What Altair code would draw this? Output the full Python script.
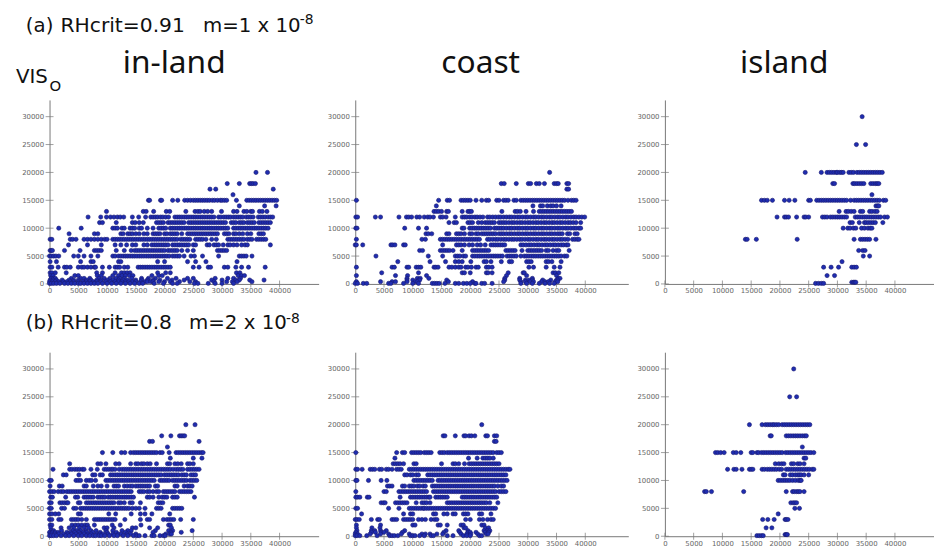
import altair as alt
import pandas as pd

x_ticks = [0, 5000, 10000, 15000, 20000, 25000, 30000, 35000, 40000]
y_ticks = [0, 5000, 10000, 15000, 20000, 25000, 30000]

# each panel: observed VIS level (thousands) -> modelled VIS values (thousands)
inland_a = {
 20: [35.9, 37.9],
 18: [30.9, 33.0, 34.8, 35.1, 35.4, 35.8],
 17: [27.9, 28.9, 38.9],
 16: [31.9],
 15: [17.2, 17.4, 19.3, 19.5, 21.4, 22.3, 23.5, 24, 24.5, 25, 25.4, 25.8, 26.2, 26.6, 27, 27.4, 27.8, 28.3, 28.7, 29.2, 29.7, 30, 30.4, 30.8, 32.5, 34.3, 34.7, 35.1, 35.5, 35.9, 36.3, 36.7, 37.1, 37.5, 37.9, 38.3, 38.7, 39.1, 39.5],
 14: [33.0, 37.4, 39.4],
 13: [9.9, 16.3, 16.8, 18.1, 20.3, 20.9, 23.7, 25.3, 25.8, 26.2, 26.9, 27.5, 28.2, 29.9, 32, 32.6, 33.8, 34.3, 35, 35.3, 36.5, 37, 37.8],
 12: [6.7, 8.9, 9.9, 10.6, 11.2, 11.8, 12.3, 12.9, 14.4, 15.5, 16.7, 17.6, 18, 18.4, 18.8, 19.3, 19.7, 20.2, 20.7, 21.8, 22.2, 22.6, 23, 23.4, 23.8, 24.2, 24.6, 25, 25.4, 25.8, 26.2, 26.6, 27, 27.4, 27.8, 28.2, 28.6, 29.4, 29.8, 30.3, 30.7, 31.1, 31.5, 32, 32.4, 32.8, 33.2, 33.6, 34.2, 34.6, 35, 35.4, 36.3, 36.7, 37.1, 37.5, 38, 38.4, 38.8],
 11: [8.7, 9.2, 11.6, 14.4, 14.9, 15.6, 16.3, 18.6, 19, 19.4, 19.8, 20.6, 21, 21.4, 21.8, 22.2, 22.6, 23, 23.4, 24.2, 24.6, 25, 25.4, 25.8, 26.2, 26.6, 27, 27.4, 27.8, 28.2, 28.6, 29, 29.4, 29.8, 30.2, 30.6, 31.6, 32, 32.4, 33, 33.4, 33.8, 34.4, 34.8, 35.2, 35.6, 36.4, 36.8, 37.2, 37.6, 38, 38.4],
 10: [1.6, 5.5, 11, 11.4, 11.8, 12.6, 13, 14, 14.4, 14.8, 15.6, 16, 17, 18, 19, 19.4, 19.8, 20.2, 21, 21.4, 21.8, 22.2, 22.6, 23, 23.4, 23.8, 24.2, 24.6, 25, 25.4, 25.8, 26.2, 26.6, 27, 27.4, 27.8, 28.2, 28.6, 29, 29.4, 29.8, 30.2, 30.6, 31, 32, 32.4, 32.8, 33.2, 33.6, 34, 34.4, 34.8, 35.2, 35.6, 36, 36.4, 36.8, 37.2, 37.6, 38],
 9: [3.4, 7.8, 8.4, 12.4, 12.8, 13.6, 14, 14.4, 15, 15.6, 16.4, 17, 18, 18.4, 18.8, 19.2, 20, 20.4, 21, 21.4, 21.8, 22.2, 23, 24, 24.4, 24.8, 25.2, 25.6, 26, 26.4, 26.8, 27.2, 27.6, 28, 28.4, 28.8, 29.2, 30.4, 30.8, 31.2, 32, 32.4, 33, 33.6, 34.4, 35, 36.4, 36.8, 37.2],
 8: [0.1, 0.4, 3.6, 4, 4.6, 6, 6.6, 7.2, 7.8, 8.4, 9, 9.6, 10, 11, 11.4, 11.8, 12.2, 12.6, 13, 13.4, 13.8, 14.2, 14.6, 15, 15.4, 15.8, 16.2, 16.6, 17, 17.4, 17.8, 18.2, 18.6, 19, 19.4, 19.8, 20.2, 20.6, 21, 21.4, 21.8, 22.2, 22.8, 23.2, 23.6, 24, 24.4, 25.4, 25.8, 26.2, 26.6, 27.2, 28.2, 29, 31, 31.4, 31.8, 32.2, 32.6, 33, 33.4, 33.8, 34.4, 34.8, 35.2, 36, 36.4, 36.8, 37.2, 37.6],
 7: [3.3, 6.6, 9, 11.4, 12.4, 13.4, 14.4, 15, 16.4, 17, 17.8, 18.2, 18.6, 19, 19.4, 19.8, 20.2, 20.6, 21.4, 21.8, 22.2, 22.6, 23, 23.4, 23.8, 24.2, 25, 25.4, 27.4, 27.8, 28.6, 29, 29.4, 30.2, 31, 31.4, 32, 32.6, 33.4, 34, 34.4, 38.4],
 6: [0.1, 0.3, 0.5, 2.6, 5.3, 7.8, 8.2, 8.6, 9, 11.6, 13, 14.2, 14.8, 15.2, 15.6, 16, 16.4, 16.8, 17.2, 17.6, 18, 18.4, 18.8, 19.2, 19.6, 20, 20.6, 21, 21.4, 21.8, 22.2, 23, 24, 25, 29.2, 29.6, 30, 30.4, 30.8],
 5: [0, 0.3, 0.7, 1.1, 1.6, 4.2, 5, 6, 7.2, 8.4, 11, 11.4, 12, 12.4, 12.8, 13.2, 13.6, 14, 14.4, 14.8, 15.2, 15.6, 16, 16.4, 16.8, 17.2, 17.6, 18, 18.4, 18.8, 19.2, 19.6, 20, 20.4, 20.8, 21.4, 21.8, 22.2, 22.6, 23.4, 24.6, 25.2, 26.6, 29.4, 33, 33.4, 33.8, 34.2, 35.2],
 4: [0.1, 1.2, 5.4, 7.2, 7.6, 12, 12.4, 18.8, 20, 24, 25.4, 27.2, 32.6],
 3: [0.1, 0.4, 1.5, 2.6, 3, 3.6, 5, 5.6, 6, 6.6, 7.2, 7.8, 8, 9.2, 10.4, 11.4, 11.8, 12.2, 13, 13.6, 15.4, 15.8, 16.2, 16.6, 17, 17.4, 17.8, 18.2, 18.6, 19, 19.4, 19.8, 20.2, 20.6, 21, 25, 26, 27.6, 28, 30.4, 31, 32.4, 33.4, 34.6, 37.5],
 2: [0.1, 0.4, 1, 2.9, 8.2, 9.2, 11.4, 12.5, 13, 13.5, 14, 18.8, 20.2, 21, 32.5, 33.1],
 1.5: [0.2, 0.6, 4.4, 5, 8.3, 9, 11, 12, 12.6, 13.2, 13.9, 14.5, 17.8, 19, 19.6, 32.8, 33.4, 33.9],
 1: [0.3, 0.7, 1, 3.8, 5.4, 6, 7, 8.6, 9.5, 10.5, 11.5, 12.2, 13, 14.3, 16, 17.2, 18.4, 20.5, 22, 24, 25, 28.8, 31, 32, 33.2],
 0.7: [0.1, 0.6, 1.2, 2.2, 3.4, 4.2, 5, 6.4, 7.2, 8.2, 9, 10, 11, 12, 12.8, 13.6, 15, 16, 17, 18, 19.2, 21.3, 23.4, 28.2, 30, 32.4, 33, 34.8, 37.3],
 0.4: [0, 0.5, 1, 1.6, 2.4, 3, 3.6, 4.2, 5, 5.8, 6.4, 7, 7.6, 8.2, 9, 9.8, 10.6, 11.4, 12, 12.6, 13.2, 13.8, 14.4, 15, 15.8, 16.6, 17, 17.6, 18, 19, 20, 21, 22.6, 24.4, 25.4, 28.6, 30.8, 31.8, 32.6, 35.2],
 0.1: [0, 0.3, 0.7, 1.2, 1.8, 2.6, 3.2, 3.8, 4.4, 5, 5.4, 6, 6.6, 7.2, 7.8, 8.4, 9.2, 10, 10.8, 11.6, 12.4, 13.2, 14, 14.8, 15.6, 16.2, 18.2, 19.8, 21.4, 22.2, 25.2, 25.8, 27.6, 28.8, 30, 32],
}

coast_a = {
 20: [33.8],
 18: [25.4, 25.9, 28, 30.1, 30.5, 31.5, 32, 32.9, 34.6, 35, 35.3, 36.8, 37.1],
 17: [36.8, 37.1],
 15: [0.2, 14.5, 16, 16.4, 18.4, 18.8, 19.2, 19.6, 20, 21, 22, 22.8, 23.2, 24.6, 25, 25.8, 26.2, 26.6, 27.6, 28, 28.8, 29.2, 29.6, 30, 30.4, 30.8, 31.2, 31.6, 32, 32.4, 32.8, 33.2, 33.6, 34, 34.4, 34.8, 35.2, 35.6, 36, 36.4, 37, 37.6, 38, 38.4],
 14: [14.1, 30.9, 32.2, 32.6, 33.4, 34, 34.4, 35, 35.8],
 13: [13.7, 14.1, 14.5, 15, 15.9, 16.2, 18.6, 19.6, 19.9, 20.2, 25.5, 27.8, 28.2, 28.7, 29.7, 31, 32, 32.4, 32.8, 33.2, 33.6, 34, 34.4, 34.8, 35.2, 35.6, 36, 36.4, 36.8, 37.2, 37.6],
 12: [0.1, 0.4, 3.5, 4.4, 7.6, 8.9, 9.3, 9.8, 10.7, 11.2, 12, 12.6, 13, 13.6, 14.8, 15.2, 15.8, 17.4, 18.6, 19, 19.4, 19.9, 20.3, 20.8, 21.2, 21.7, 22.2, 23, 23.4, 23.9, 24.4, 24.9, 25.3, 25.8, 26.3, 26.8, 27.2, 27.7, 28.2, 28.6, 29.1, 29.6, 30, 30.5, 31, 31.4, 31.9, 32.4, 32.8, 33.3, 33.8, 34.2, 34.7, 35.2, 35.6, 36.1, 36.6, 37, 37.5, 38, 38.4, 38.9, 39.4, 39.9],
 11: [16.3, 17.2, 17.6, 19.6, 20, 20.4, 21.4, 22, 22.6, 23, 23.4, 23.8, 24.2, 25, 25.4, 25.8, 26.2, 26.7, 27.2, 27.6, 28.1, 28.6, 29, 29.5, 30, 30.4, 30.9, 31.4, 31.8, 32.3, 32.8, 33.2, 33.7, 34.2, 34.6, 35.1, 35.6, 36, 36.5, 37, 37.4, 37.9, 38.4, 39.2],
 10: [0.1, 0.3, 8.6, 11, 12.4, 18.6, 18.9, 19.9, 20.3, 20.7, 21.1, 21.5, 21.9, 22.3, 22.7, 23.1, 23.5, 24.2, 24.6, 25, 25.4, 25.8, 26.3, 26.8, 27.2, 27.7, 28.2, 28.6, 29.1, 29.6, 30, 30.5, 31, 31.4, 31.9, 32.4, 32.8, 33.3, 33.8, 34.2, 34.7, 35.2, 35.6, 36.1, 36.6, 37, 37.5, 38, 38.4, 38.9, 39.2],
 9: [12.3, 12.7, 13.3, 15.9, 16.3, 17.6, 18, 18.4, 19, 19.9, 20.3, 21, 21.4, 22, 22.4, 22.8, 23.2, 23.6, 24, 24.4, 25, 25.4, 25.8, 26.3, 26.8, 27.2, 27.7, 28.2, 28.6, 29.1, 29.6, 30, 30.5, 31, 31.4, 31.9, 32.4, 32.8, 33.3, 33.8, 34.2, 34.7, 35.2, 35.6, 36, 36.9, 37.3, 38.2, 38.6],
 8: [0.2, 11.6, 12.2, 14.8, 15.2, 15.6, 16, 16.4, 16.8, 17.2, 17.6, 18, 18.4, 18.8, 19.2, 19.6, 20, 20.4, 20.8, 21.2, 21.6, 23, 23.4, 23.9, 24.4, 24.8, 25.3, 25.8, 26.2, 26.7, 27.2, 27.6, 28.1, 28.6, 29, 29.5, 30, 30.4, 30.9, 31.4, 31.8, 32.3, 32.8, 33.2, 33.7, 34.2, 34.6, 35.1, 35.6, 36, 36.5, 37, 37.8, 38.2, 38.6, 38.9],
 7: [0, 0.2, 1.3, 6.2, 6.5, 6.9, 8.4, 8.7, 15.2, 17.6, 18, 18.4, 19, 19.8, 20.4, 21.2, 21.8, 22.6, 23.6, 24, 24.4, 24.8, 25.2, 25.6, 26, 28.8, 29.2, 29.7, 30.2, 30.6, 31.1, 31.6, 32, 32.5, 33, 33.4, 33.9, 34.4, 34.8, 35.3, 35.8, 36.2, 36.7, 37],
 6: [11.2, 11.7, 14.8, 15.2, 15.6, 16, 16.4, 17, 18.6, 20.4, 20.8, 21.2, 21.6, 22, 22.4, 22.8, 23.2, 26.2, 26.6, 27, 27.4, 27.8, 29, 30, 30.4, 30.8, 31.2, 31.6, 32, 32.4, 33.2, 33.6, 34.4, 35, 35.4, 37.2],
 5: [3.6, 12.7, 15.2, 17.4, 17.8, 18.2, 18.8, 19.2, 20.4, 20.8, 21.2, 21.6, 22, 22.4, 22.8, 23.2, 23.6, 24, 24.4, 24.8, 25.2, 25.6, 26.4, 26.8, 27.2, 27.6, 28, 28.8, 29.4, 29.8, 30.2, 30.6, 31, 31.4, 31.8, 32.2, 32.6, 33, 33.4, 33.8, 34.2, 34.6, 35, 35.4, 35.8, 36.4, 36.8],
 4: [7.4, 13, 15.7, 17.4, 18, 18.6, 20.1, 22.4, 22.8, 23.6, 25.4, 26.8, 27.2, 29.8, 30.2, 30.6, 33.2, 33.6, 34.2, 35.8],
 3: [0.2, 6.4, 6.8, 9, 9.3, 10.6, 11, 11.4, 13.7, 14, 14.4, 16.3, 16.8, 17.4, 18, 18.4, 19.2, 19.6, 20.2, 21, 21.4, 22.8, 23.2, 23.8, 30.2, 31, 33.2, 34.6, 35.6],
 2: [4.6, 11, 18.6, 19, 20, 22.8, 23.1, 23.8, 26.6, 29.2, 29.4, 34.4, 34.8, 35.4],
 1.5: [0.2, 7, 9.1, 12.4, 26.3, 29.8, 35],
 1: [9, 10.8, 11.3, 12.8, 26, 28.6, 30.8, 35.3, 35.6],
 0.7: [9, 10, 11, 11.2, 15.9, 26, 28.6, 29.6, 30.2, 30.8, 32.6, 34, 35, 35.2],
 0.4: [0.2, 4.4, 6.4, 7, 9, 10.4, 10.8, 16.2, 20.4, 25.8, 28.8, 29.6, 30.4, 31, 32.4, 33, 33.6, 34.8, 35.2],
 0.1: [0, 0.4, 1.4, 2, 5.8, 6.2, 8.4, 10, 11, 13.4, 13.8, 14.2, 14.6, 15.6, 17.4, 18, 18.8, 19.4, 20, 20.8, 21, 22, 22.5, 23.8, 28.8, 29.8, 30.8, 32, 33, 33.8, 34.6],
}

island_a = {
 30: [34.3],
 25: [33.3, 34.9],
 20: [24.4, 27.2, 28.2, 28.6, 29, 29.4, 29.8, 30, 30.4, 30.7, 31, 32, 32.4, 32.8, 33.4, 33.8, 34.2, 34.6, 35, 35.4, 35.8, 36.2, 36.6, 37, 37.4, 37.8],
 18: [29.2, 29.5, 32.7, 33, 33.4, 33.8, 34.2, 34.6, 35.8, 36.2, 36.6, 36.9, 37.2],
 16: [36.0],
 15: [16.8, 17.3, 17.8, 18.7, 20.8, 21.6, 22.6, 25, 25.3, 26.4, 26.8, 27.2, 27.6, 28, 28.4, 28.8, 29.2, 29.6, 30, 30.4, 30.8, 31.2, 31.6, 32.3, 32.9, 33.3, 33.7, 34.1, 34.5, 34.9, 35.3, 35.7, 36.1, 36.5, 36.9, 37.3, 38, 38.4],
 14: [36.7, 37, 37.2],
 13: [30.3, 31.5, 31.9, 32.4, 32.9, 34, 34.4, 35.6, 36, 36.5, 36.9],
 12: [19.5, 20.8, 21.1, 21.5, 22.9, 24.2, 24.5, 25, 27.4, 27.8, 28.2, 28.8, 29.2, 29.6, 30, 30.4, 30.8, 31.2, 31.6, 33.1, 33.5, 33.9, 34.3, 34.7, 35.1, 35.5, 35.9, 36.3, 36.7, 37.1, 37.5, 38.2, 38.7],
 11: [32.2, 32.6, 33.8, 34.7, 35, 35.4, 35.8, 36.2, 36.6, 37.9],
 10: [31, 31.8, 32.2, 32.8, 33.2, 34.2, 34.7, 35.3, 35.7, 36],
 8: [14, 14.3, 15.9, 23, 32.9, 34, 34.4, 34.8, 35.2, 35.6, 36.7],
 6: [33.7, 34.4, 34.8],
 5: [34.5, 35.6],
 4: [30.8],
 3: [27.6, 28.9, 30.2, 32.5, 32.9, 33.3],
 1.5: [28.2, 29.5],
 0.3: [32.5, 32.8, 33, 33.2],
 0.1: [26.2, 26.7, 27.2, 27.6],
}

inland_b = {
 20: [23.7, 25.3],
 18: [19.5, 21.1, 22.6, 22.9, 23.2, 23.5],
 17: [17.4, 17.9, 26],
 16: [20.5],
 15: [9.2, 11, 12.5, 13.1, 14.1, 14.6, 15, 15.4, 15.8, 16.2, 16.6, 17, 17.4, 17.8, 18.2, 18.6, 19.2, 19.6, 20.8, 22, 22.4, 22.8, 23.2, 23.6, 24, 24.4, 24.8, 25.2, 25.6, 26, 26.4, 26.7],
 14: [21, 25, 26.5],
 13: [3.5, 8.4, 8.9, 9.8, 11.5, 12.1, 14.1, 15, 15.4, 16, 16.4, 17, 17.5, 18.6, 20.5, 20.9, 21.8, 22.3, 22.9, 24, 24.4, 25],
 12: [0.6, 3.5, 3.9, 4.4, 4.8, 5.2, 5.7, 6, 7.2, 8.3, 9.5, 9.9, 10.3, 10.7, 11, 11.4, 12.1, 12.6, 13, 13.4, 13.8, 14.2, 14.6, 15, 15.4, 15.8, 16.2, 16.6, 17, 17.4, 17.8, 18.2, 18.6, 19, 19.4, 19.8, 20.2, 20.6, 21, 21.5, 22, 22.4, 22.8, 23.2, 24, 24.4, 24.8, 25.2, 25.6, 26],
 11: [2.4, 2.9, 5.1, 7.5, 7.9, 8.8, 9.2, 10.6, 11, 11.4, 11.8, 12.2, 12.6, 13, 13.4, 13.8, 14.2, 14.6, 15, 15.4, 15.8, 16.2, 16.6, 17, 17.4, 17.8, 18.2, 18.6, 19, 19.4, 20, 20.4, 20.8, 21.2, 21.6, 22, 22.4, 23, 23.4, 23.8, 24.6, 25, 25.4],
 10: [0, 0.3, 4.6, 5, 5.4, 6.4, 6.9, 7.3, 8, 9.8, 10.2, 10.6, 11, 11.4, 11.8, 12.2, 12.6, 13, 13.4, 13.8, 14.2, 14.6, 15, 15.4, 15.8, 16.2, 16.6, 17, 17.4, 17.8, 18.2, 19.2, 19.6, 20, 20.4, 20.8, 21.4, 21.8, 22.2, 22.6, 23, 23.4, 23.8, 24.4, 24.8, 25.2, 25.6],
 9: [0.1, 1.7, 2.2, 6, 6.4, 7.6, 8.4, 9, 10, 11.2, 11.6, 12, 13, 13.5, 14, 14.4, 15, 15.4, 15.8, 16.2, 16.6, 17, 17.4, 18.4, 18.8, 21.8, 22.2, 23.4, 24, 24.4, 24.8],
 8: [0, 0.4, 0.8, 1.5, 2, 2.4, 3, 3.4, 3.8, 4.2, 4.6, 5, 5.4, 5.8, 6.2, 6.6, 7, 7.4, 7.8, 8.2, 8.6, 9, 9.4, 9.8, 10.2, 10.6, 11, 11.4, 11.8, 12.2, 12.6, 13, 13.4, 13.8, 14.2, 15.6, 16, 16.4, 17, 17.4, 18, 18.6, 19, 19.8, 20.2, 20.6, 21, 21.4, 21.8, 22.6, 23, 23.4, 23.8, 24.2, 24.6],
 7: [0.2, 0.5, 2.8, 4.5, 4.9, 6, 6.4, 6.8, 7.2, 7.6, 8.4, 8.8, 9.2, 9.6, 10.2, 10.6, 11, 11.4, 11.8, 12.2, 12.6, 13, 13.4, 13.8, 14.2, 14.6, 17, 17.4, 18, 19, 19.6, 20, 20.4, 21.4, 21.8, 22.2, 25.2],
 6: [0, 0.3, 1.8, 2.2, 2.6, 3, 3.2, 5, 5.3, 6.4, 6.8, 7.2, 7.6, 8, 8.4, 8.8, 9.2, 9.6, 10, 10.4, 10.8, 11.2, 12, 12.4, 13, 14, 14.4, 15.8, 18.9, 19.3, 19.7],
 5: [0, 0.3, 2.1, 2.6, 4.2, 4.6, 5.4, 5.8, 6.2, 6.6, 7, 7.4, 7.8, 8.2, 8.6, 9, 9.4, 9.8, 10.2, 10.6, 11, 11.4, 11.8, 12.2, 12.6, 13, 13.4, 13.8, 14.4, 15, 15.6, 16.6, 18.6, 19, 19.4, 21.4, 21.8, 22.2, 22.6, 23],
 4: [0, 0.4, 1, 1.6, 5, 5.4, 10.3, 11.5, 14.2, 15.8, 16.6, 17.8, 20.9],
 3: [0, 0.4, 1.6, 2, 3.8, 4.2, 4.6, 5, 5.6, 6.4, 7.8, 8.2, 8.6, 9, 9.4, 9.8, 10.2, 10.6, 11, 11.4, 13.1, 15.8, 17, 17.4, 19.8, 20.4, 20.8, 21.2, 21.6, 22.8, 25],
 2: [0.1, 0.4, 3.9, 4.5, 5, 5.6, 6.2, 6.6, 7.8, 10.9, 12.3, 15.9, 20.7, 21],
 1.5: [0.2, 2, 3.4, 4.2, 5.2, 6, 6.8, 9.5, 10, 11.2, 14.4, 15, 17.4, 18.8, 21.2],
 1: [0.3, 0.7, 2.1, 4, 4.7, 5.4, 6.3, 7.2, 8.1, 9.8, 11, 12.6, 13.6, 14.2, 18.4, 20.7, 21.4, 24.8],
 0.7: [0, 0.5, 1, 1.5, 3, 3.6, 4.4, 5.1, 5.9, 6.5, 7.5, 8.8, 10, 11.6, 13.2, 18, 21.1, 22.9],
 0.4: [0.1, 0.4, 0.9, 1.6, 2.4, 3.2, 3.8, 4.6, 5.3, 6, 6.7, 7.2, 8.2, 8.7, 9.3, 10.2, 11, 12, 12.5, 13.5, 14.1, 15, 20.2, 20.9, 21.2],
 0.1: [0, 0.3, 0.7, 1.2, 2, 2.8, 3.4, 4.2, 5, 5.6, 6.4, 7, 7.6, 8, 8.6, 9, 9.6, 10.4, 11.2, 11.8, 12.8, 13.6, 14.6, 15.2, 15.6, 16.6, 17.8, 18.2, 19.2, 19.8, 20.1],
}

coast_b = {
 20: [22],
 18: [15.3, 15.6, 17.4, 18.9, 19.2, 19.8, 20.2, 20.8, 22.7, 23, 24.2, 24.6],
 17: [24.2, 24.5],
 15: [0.1, 7.2, 8.2, 8.6, 9.8, 10.2, 10.6, 11, 11.4, 12, 12.4, 12.8, 13.2, 14.7, 15.1, 15.5, 16, 16.4, 16.8, 17.2, 17.6, 18, 18.4, 18.8, 19.2, 19.6, 20, 20.4, 20.8, 21.2, 21.6, 22, 22.4, 22.8, 23.2, 23.6, 24, 24.6, 25, 25.4],
 14: [6.9, 19.7, 21.2, 22.2, 22.6, 23, 23.4, 24],
 13: [6.6, 7, 7.4, 7.8, 8.4, 10.2, 10.6, 15, 17, 17.4, 18, 19, 19.8, 20.2, 20.6, 21, 21.4, 21.8, 22.2, 22.6, 23, 23.4, 23.8, 24.2, 24.6, 25],
 12: [0.1, 0.4, 1.2, 2.6, 3, 3.4, 4.2, 4.6, 5.4, 5.8, 6.4, 7.2, 7.6, 8, 9.4, 9.8, 10.2, 10.6, 11, 11.4, 11.8, 12.2, 12.6, 13, 13.4, 13.8, 14.2, 14.6, 15, 15.4, 15.8, 16.2, 16.6, 17, 17.4, 17.8, 18.2, 18.6, 19, 19.4, 19.8, 20.2, 20.6, 21, 21.4, 21.8, 22.2, 22.6, 23, 23.4, 23.8, 24.2, 24.6, 25, 25.4, 25.8, 26.2, 26.6, 26.9],
 11: [8.6, 9, 9.6, 10, 10.6, 11, 12.6, 13, 13.4, 13.8, 14.2, 14.6, 15, 15.4, 15.8, 16.2, 16.6, 17, 17.4, 17.8, 18.2, 18.6, 19, 19.4, 19.8, 20.2, 20.6, 21, 21.4, 21.8, 22.2, 22.6, 23, 23.4, 23.8, 24.2, 24.6, 25, 25.4, 25.8, 26.2],
 10: [0.1, 0.3, 2.3, 4.5, 5.5, 10.2, 10.6, 11, 11.4, 11.8, 12.2, 12.6, 13, 13.4, 14.4, 14.8, 15.2, 15.6, 16, 16.4, 16.8, 17.2, 17.6, 18, 18.4, 18.8, 19.2, 19.6, 20, 20.4, 20.8, 21.2, 21.6, 22, 22.4, 22.8, 23.2, 23.6, 24, 24.4, 24.8, 25.2, 25.6, 26, 26.4],
 9: [5.6, 6, 6.4, 8.2, 8.6, 9.4, 9.8, 10.2, 10.8, 11.2, 11.8, 12.2, 13.4, 13.8, 14.2, 14.6, 15, 15.4, 15.8, 16.2, 16.6, 17, 17.4, 17.8, 18.2, 18.6, 19, 19.4, 19.8, 20.2, 20.6, 21, 21.4, 21.8, 22.2, 22.6, 23, 23.4, 23.8, 24.2, 24.8, 25.4, 25.8],
 8: [0.1, 5, 5.4, 7.6, 8, 8.4, 8.8, 9.2, 9.6, 10, 10.4, 10.8, 11.2, 11.6, 12, 12.4, 13.6, 14, 14.4, 14.8, 15.2, 15.6, 16, 16.4, 16.8, 17.2, 17.6, 18, 18.4, 18.8, 19.2, 19.6, 20, 20.4, 20.8, 21.2, 21.6, 22, 22.4, 22.8, 23.2, 23.6, 24, 24.4, 25, 25.4, 25.8, 26.2],
 7: [0.1, 0.4, 0.8, 2.1, 2.4, 7.8, 9.6, 10, 10.4, 10.8, 11.2, 11.6, 12, 12.4, 12.8, 13, 14, 14.4, 14.8, 15.2, 15.6, 16, 18.6, 19, 19.4, 19.8, 20.2, 20.6, 21, 21.4, 21.8, 22.2, 22.6, 23, 23.4, 23.8, 24.2, 24.6],
 6: [4.5, 4.9, 5.2, 7, 7.4, 7.8, 8.2, 8.6, 9, 10.6, 11.6, 12, 12.4, 13, 16, 16.4, 16.8, 17.2, 17.6, 18, 18.4, 18.8, 19.2, 19.6, 20, 20.4, 20.8, 21.2, 21.6, 22, 22.4, 22.8, 23.4, 24.8],
 5: [0.1, 0.4, 5.8, 7.6, 9.4, 9.8, 10.2, 10.6, 11, 11.4, 11.8, 12, 12.4, 12.8, 13.2, 13.6, 14, 14.4, 14.8, 15.2, 15.6, 16, 16.4, 16.8, 17.2, 17.6, 18, 18.4, 18.8, 19.2, 19.6, 20, 20.4, 20.8, 21.2, 21.6, 22, 22.4, 22.8, 23.2, 23.6, 24, 24.4],
 4: [1.1, 8.4, 9.6, 10, 13.6, 14, 15.4, 16, 17, 17.4, 18.8, 19.2, 19.6, 21.6, 22, 23.6],
 3: [0, 0.3, 0.7, 2.8, 3.9, 4.2, 6.4, 6.8, 7.2, 8.4, 8.8, 9.2, 9.6, 10, 11, 11.6, 12.2, 13.2, 13.8, 14.2, 19.2, 20, 21.6, 22.2, 23, 23.6, 24],
 2: [0.2, 4.4, 10, 10.4, 14.4, 14.8, 16, 18.4, 18.8, 22, 22.4],
 1.5: [0.2, 2.9, 4.3, 18.9, 19.2, 22.6, 23.2],
 1: [0.3, 2.8, 3.4, 4.4, 5.4, 8.6, 15.8, 18, 19.6, 22.4, 23, 23.4],
 0.7: [0.1, 2.8, 3.5, 4.5, 5, 8.2, 15.4, 18.2, 19.6, 20, 21, 22.6, 23.2],
 0.4: [0, 0.4, 2.6, 4.4, 5.8, 8, 9.4, 11.6, 12.2, 13, 14.2, 15.2, 18.4, 19.4, 20.1, 21.3, 22.8, 23.1],
 0.1: [0, 0.3, 0.8, 2, 3.8, 6, 6.4, 6.8, 7.4, 9.6, 10, 10.4, 11.2, 12, 13.2, 13.6, 16, 17, 18.8, 19.4, 20, 21.6, 22],
}

island_b = {
 30: [22.4],
 25: [21.7, 22.9],
 20: [14.7, 16.9, 17.5, 17.9, 18.3, 18.7, 19, 19.4, 19.8, 20.4, 20.8, 21.2, 21.6, 22, 22.4, 22.8, 23.2, 23.6, 24, 24.4, 24.8, 25.2],
 18: [18.3, 18.5, 21.1, 21.5, 21.9, 22.3, 22.7, 23.1, 23.5, 23.9, 24.3, 24.6],
 16: [23.9],
 15: [8.8, 9.2, 9.7, 10.3, 11.9, 12.4, 13.2, 15, 15.3, 16, 16.3, 16.8, 17.2, 17.6, 18, 18.4, 18.8, 19.2, 19.6, 20, 20.4, 21, 21.4, 21.8, 22.2, 22.6, 23, 23.4, 23.8, 24.2, 24.6, 25, 25.4, 25.9],
 14: [24.2, 24.5],
 13: [19.2, 19.8, 20.3, 20.7, 22, 22.4, 23.1, 23.5, 24.2],
 12: [10.9, 12, 12.4, 13.4, 14.7, 15, 15.3, 16.9, 17.3, 17.8, 18.2, 18.6, 19, 19.4, 19.9, 20.3, 21.1, 21.5, 21.9, 22.3, 22.7, 23.1, 23.5, 23.9, 24.3, 24.7, 25.1, 25.6, 25.9],
 11: [20.6, 20.9, 21.8, 22.2, 22.7, 23.1, 23.4, 23.7, 24.2, 25],
 10: [19.7, 20.1, 20.5, 20.9, 21.3, 21.7, 22.2, 22.7, 23.2, 23.5, 23.7],
 8: [6.9, 7.2, 8.1, 13.7, 21.1, 22.2, 22.5, 22.9, 23.2, 23.5, 24.2],
 6: [21.9, 22.3, 22.6, 22.9],
 5: [22.6, 23.4],
 4: [19.7],
 3: [17, 17.9, 19, 20.9, 21.1, 21.4],
 1.5: [17.6, 18.6],
 0.3: [20.9, 21.1, 21.3],
 0.1: [16, 16.4, 16.8, 17.1],
}

TICK = "#777777"
LABEL = "#666666"
HEAD = "Noto Sans"
SUB = "DejaVu Sans"


def frame(levels):
    rows = [(x * 1000, lvl * 1000) for lvl, xs in levels.items() for x in xs]
    return pd.DataFrame(rows, columns=["model", "obs"])


def text(label, x, y, size, font=SUB, color="#111111"):
    return alt.Chart({"values": [{}]}).mark_text(
        text=label, font=font, fontSize=size, align="left", baseline="middle", color=color
    ).encode(x=alt.value(x), y=alt.value(y))


def panel(levels, width, notes):
    xs = alt.Scale(domain=[0, width / 232.5 * 40000], nice=False, zero=False)
    ys = alt.Scale(domain=[0, 33000], nice=False, zero=False)
    x_ax = alt.Axis(values=x_ticks, tickCount=len(x_ticks), format="d", title=None, grid=False, ticks=False,
                    labelFont="DejaVu Sans", labelFontSize=7, labelColor=LABEL, labelPadding=3,
                    domainColor=TICK, domainWidth=1, labelFlush=False, labelOverlap=False)
    y_ax = alt.Axis(values=y_ticks, tickCount=len(y_ticks), format="d", title=None, grid=False, ticks=False,
                    labelFont="DejaVu Sans", labelFontSize=7, labelColor=LABEL, labelPadding=6,
                    domainColor=TICK, domainWidth=1, labelOverlap=False)
    base = alt.Chart(frame(levels)).mark_circle(
        size=18, opacity=1, color="#1f2db0", stroke="#1a1a70", strokeWidth=0.6
    ).encode(x=alt.X("model:Q", scale=xs, axis=x_ax), y=alt.Y("obs:Q", scale=ys, axis=y_ax))
    xt = alt.Chart(pd.DataFrame({"t": x_ticks})).mark_tick(size=7, thickness=1, color=TICK).encode(
        x=alt.X("t:Q", scale=xs, axis=x_ax), y=alt.value(186))
    yt = alt.Chart(pd.DataFrame({"t": y_ticks})).mark_tick(size=8, thickness=1, color=TICK).encode(
        y=alt.Y("t:Q", scale=ys, axis=y_ax), x=alt.value(0))
    return alt.layer(xt, yt, base, *notes).properties(width=width, height=186)


notes_a1 = [
    text("(a)", -24, -75, 20),
    text("RHcrit=0.91", 11, -75, 20.5),
    text("m=1 x 10", 155, -75, 20),
    text("-8", 253, -81, 14),
    text("in-land", 74, -37, 32, HEAD),
    text("VIS", -34, -23, 20),
    text("O", 0, -14, 15),
]
notes_a2 = [text("coast", 87, -37, 32, HEAD)]
notes_a3 = [text("island", 76, -37, 32, HEAD)]
notes_b1 = [
    text("(b)", -24, -29, 20),
    text("RHcrit=0.8", 11, -29, 20.5),
    text("m=2 x 10", 141, -29, 20),
    text("-8", 239, -34, 14),
]

panels = [
    panel(inland_a, 272, notes_a1),
    panel(coast_a, 276, notes_a2),
    panel(island_a, 272, notes_a3),
    panel(inland_b, 272, notes_b1),
    panel(coast_b, 276, []),
    panel(island_b, 272, []),
]

chart = alt.concat(*panels, columns=3, spacing={"row": 69, "column": 37}, bounds="flush", align="none").properties(
    padding={"left": 8, "top": 2, "right": 0, "bottom": 0}
).configure_view(stroke=None)

chart.save("out.html", embed_options={"renderer": "svg", "actions": False})
